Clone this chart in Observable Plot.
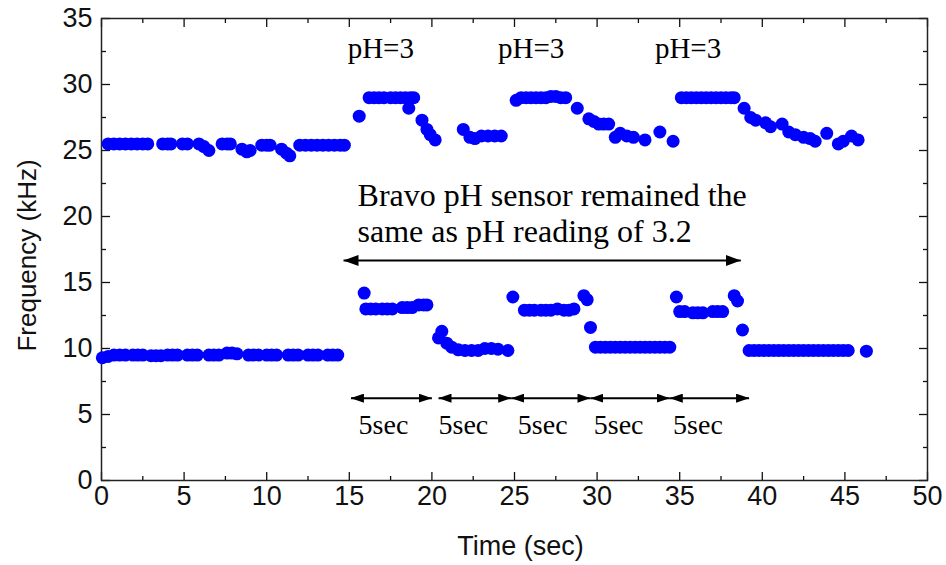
<!DOCTYPE html>
<html><head><meta charset="utf-8">
<script src="https://cdn.jsdelivr.net/npm/d3@7"></script>
<script src="https://cdn.jsdelivr.net/npm/@observablehq/plot@0.6"></script>
<style>html,body{margin:0;padding:0;background:#fff}</style>
</head><body><div id="chart"></div>
<script>
// Upper trace (Frequency, kHz vs Time, sec)
const upperTime = [0.4,0.75,1.1,1.45,1.8,2.15,2.5,2.8, 3.7,4.0,4.2, 4.9,5.2, 5.9,6.2,6.5, 7.3,7.6,7.8, 8.5,8.8,9.0, 9.7,10.0,10.2, 10.9,11.2,11.4,
  12.0,12.35,12.7,13.05,13.4,13.75,14.1,14.45,14.7,
  15.6, 16.2,16.5,16.8,17.1, 17.5,17.8,18.1, 18.4,18.7,18.9, 18.6, 19.4, 19.7, 19.9, 20.2,
  21.9, 22.3,22.6, 23.0,23.4,23.8, 24.2,
  25.1, 25.4,25.7,26.0,26.3,26.6,26.9,27.2,27.5,27.8,28.1, 28.8, 29.5,29.8, 30.1,30.4,30.7, 31.1,31.4,31.8,32.2, 32.9, 33.8, 34.6,
  35.1,35.4,35.7,36.0,36.3,36.6,36.9,37.2,37.5,37.8,38.1,38.3, 38.9, 39.3,39.6, 40.2,40.5, 41.2, 41.6,42.0, 42.5,42.9,43.2, 43.9, 44.6,44.9, 45.4, 45.8];
const upperFreq = [25.5,25.5,25.5,25.5,25.5,25.5,25.5,25.5, 25.5,25.5,25.5, 25.5,25.5, 25.5,25.3,25.0, 25.5,25.5,25.5, 25.1,24.9,25.0, 25.4,25.4,25.4, 25.1,24.8,24.6,
  25.4,25.4,25.4,25.4,25.4,25.4,25.4,25.4,25.4,
  27.6, 29.0,29.0,29.0,29.0, 29.0,29.0,29.0, 29.0,29.0,29.0, 28.2, 27.3, 26.6, 26.2, 25.8,
  26.6, 26.0,25.9, 26.1,26.1,26.1, 26.1,
  28.8, 29.0,29.0,29.0,29.0,29.0,29.0,29.1,29.1,29.0,29.0, 28.2, 27.4,27.2, 27.0,27.0,27.0, 26.0,26.3,26.1,26.0, 25.8, 26.4, 25.7,
  29.0,29.0,29.0,29.0,29.0,29.0,29.0,29.0,29.0,29.0,29.0,29.0, 28.2, 27.5,27.3, 27.1,26.8, 27.0, 26.4,26.2, 26.0,25.9,25.7, 26.3, 25.5,25.7, 26.1, 25.8];

// Lower trace
const lowerTime = [0.05, 0.4,0.75,1.1,1.45, 1.9,2.2,2.5, 3.0,3.3,3.6, 4.0,4.3,4.6, 5.2,5.5,5.8, 6.5,6.8,7.1, 7.6,7.9,8.2, 8.9,9.2,9.5,
  10.0,10.3,10.6, 11.3,11.6,11.9, 12.5,12.8,13.1, 13.7,14.0,14.3,
  15.9, 16.0,16.3,16.6, 17.0,17.3,17.6, 18.2,18.5,18.8, 19.2,19.5,19.7,
  20.4, 20.6, 20.9, 21.2, 21.6, 22.0,22.4,22.8, 23.2,23.6, 24.0, 24.6,
  24.9, 25.6,25.9,26.2, 26.6,26.9,27.2, 27.6, 28.0,28.3, 28.6, 29.2,29.4, 29.6,
  29.9,30.2,30.5,30.8,31.1,31.4,31.7,32.0,32.3,32.6,32.9,33.2,33.5,33.8,34.1,34.4,
  34.8, 35.0,35.3, 35.8,36.1,36.4, 37.0,37.3,37.6, 38.3,38.5, 38.8,
  39.2,39.5,39.8,40.1,40.4,40.7,41.0,41.3,41.6,41.9,42.2,42.5,42.8,43.1,43.4,43.7,44.0,44.3,44.6,44.9,45.2, 46.3];
const lowerFreq = [9.3, 9.4,9.5,9.5,9.5, 9.5,9.5,9.5, 9.45,9.45,9.45, 9.5,9.5,9.5, 9.5,9.5,9.5, 9.5,9.5,9.5, 9.65,9.65,9.6, 9.5,9.5,9.5,
  9.5,9.5,9.5, 9.5,9.5,9.5, 9.5,9.5,9.5, 9.5,9.5,9.5,
  14.2, 13.0,13.0,13.0, 13.0,13.0,13.0, 13.1,13.1,13.1, 13.3,13.3,13.3,
  10.8, 11.3, 10.4, 10.1, 9.9, 9.85,9.85,9.85, 10.0,10.0, 9.95, 9.85,
  13.9, 12.9,12.9,12.9, 12.9,12.9,12.9, 13.0, 12.9,12.9, 13.0, 14.0,13.7, 11.6,
  10.1,10.1,10.1,10.1,10.1,10.1,10.1,10.1,10.1,10.1,10.1,10.1,10.1,10.1,10.1,10.1,
  13.9, 12.8,12.8, 12.7,12.7,12.7, 12.8,12.8,12.8, 14.0,13.6, 11.4,
  9.85,9.85,9.85,9.85,9.85,9.85,9.85,9.85,9.85,9.85,9.85,9.85,9.85,9.85,9.85,9.85,9.85,9.85,9.85,9.85,9.85, 9.8];

// Axis ticks
const xMajor = [0,5,10,15,20,25,30,35,40,45,50];
const xMinor = [2.5,7.5,12.5,17.5,22.5,27.5,32.5,37.5,42.5,47.5];
const yMajor = [0,5,10,15,20,25,30,35];
const yMinor = [2.5,7.5,12.5,17.5,22.5,27.5,32.5];

// Annotations (data units)
const phText = ["pH=3","pH=3","pH=3"];
const phTime = [14.9, 24.0, 33.5];
const phFreq = [32.0, 32.0, 32.0];
const noteText = ["Bravo pH sensor remained the", "same as pH reading of 3.2"];
const noteTime = [15.5, 15.5];
const noteFreq = [20.8, 18.1];
const bigArrowStart = [14.65], bigArrowEnd = [38.7], bigArrowFreq = [16.67];
const secStart = [15.1, 20.4, 24.8, 29.6, 34.4];
const secEnd   = [20.0, 24.8, 29.6, 34.4, 39.2];
const secFreq = 6.24;
const secLabelTime = [15.56, 20.4, 25.2, 29.8, 34.6];
const secLabelFreq = 3.56;

const upper = upperTime.map((t, i) => ({t, f: upperFreq[i]}));
const lower = lowerTime.map((t, i) => ({t, f: lowerFreq[i]}));
const phLabels = phText.map((s, i) => ({s, t: phTime[i], f: phFreq[i]}));
const notes = noteText.map((s, i) => ({s, t: noteTime[i], f: noteFreq[i]}));
const bigArrow = bigArrowStart.map((a, i) => ({a, b: bigArrowEnd[i], f: bigArrowFreq[i]}));
const secArrows = secStart.map((a, i) => ({a, b: secEnd[i], f: secFreq}));
const secLabels = secLabelTime.map(t => ({s: "5sec", t, f: secLabelFreq}));

function headMarker(len, half) {
  return (color, context) => {
    const m = d3.create("svg:marker")
      .attr("viewBox", `${-len} ${-half} ${len} ${2*half}`)
      .attr("markerUnits", "userSpaceOnUse")
      .attr("markerWidth", len).attr("markerHeight", 2*half)
      .attr("refX", 0).attr("refY", 0)
      .attr("orient", "auto-start-reverse");
    m.append("path").attr("d", `M${-len},${-half}L0,0L${-len},${half}Z`).attr("fill", "#000").attr("stroke", "none");
    return m.node();
  };
}
const bigHead = headMarker(15, 5.5);
const smallHead = headMarker(13, 4.5);

const serif = "'Liberation Serif', 'Times New Roman', serif";
const noTxt = () => "";

const chart = Plot.plot({
  width: 946, height: 565,
  marginLeft: 101, marginRight: 19, marginTop: 18, marginBottom: 85,
  x: {domain: [0, 50], label: null},
  y: {domain: [0, 35], label: null},
  style: {fontFamily: "'Liberation Sans', Arial, sans-serif", background: "#fff", color: "#111"},
  marks: [
    // inward ticks on all four sides
    Plot.axisX({anchor: "bottom", ticks: xMajor, tickSize: -8, tickFormat: noTxt, label: null, strokeWidth: 1.3}),
    Plot.axisX({anchor: "bottom", ticks: xMinor, tickSize: -4, tickFormat: noTxt, label: null, strokeWidth: 1.3}),
    Plot.axisX({anchor: "top", ticks: xMajor, tickSize: -8, tickFormat: noTxt, label: null, strokeWidth: 1.3}),
    Plot.axisX({anchor: "top", ticks: xMinor, tickSize: -4, tickFormat: noTxt, label: null, strokeWidth: 1.3}),
    Plot.axisY({anchor: "left", ticks: yMajor, tickSize: -9, tickFormat: noTxt, label: null, strokeWidth: 1.3}),
    Plot.axisY({anchor: "left", ticks: yMinor, tickSize: -5, tickFormat: noTxt, label: null, strokeWidth: 1.3}),
    Plot.axisY({anchor: "right", ticks: yMajor, tickSize: -9, tickFormat: noTxt, label: null, strokeWidth: 1.3}),
    Plot.axisY({anchor: "right", ticks: yMinor, tickSize: -5, tickFormat: noTxt, label: null, strokeWidth: 1.3}),
    // tick labels
    Plot.axisX({anchor: "bottom", ticks: xMajor, tickSize: 0, tickPadding: 5, fontSize: 27, label: null}),
    Plot.axisY({anchor: "left", ticks: yMajor, tickSize: 0, tickPadding: 9, fontSize: 27, label: null}),
    Plot.frame({stroke: "#222", strokeWidth: 1.5}),
    // axis titles
    Plot.text(["Time (sec)"], {frameAnchor: "bottom", text: d => d, dx: 6, dy: 74, fontSize: 27, fill: "#111"}),
    Plot.text(["Frequency (kHz)"], {frameAnchor: "left", text: d => d, dx: -74, dy: 6, rotate: -90, textAnchor: "middle", lineAnchor: "middle", fontSize: 26, fill: "#111"}),
    // data
    Plot.dot(upper, {x: "t", y: "f", r: 6.5, fill: "#0000ff", stroke: "none"}),
    Plot.dot(lower, {x: "t", y: "f", r: 6.5, fill: "#0000ff", stroke: "none"}),
    // annotations
    Plot.text(phLabels, {x: "t", y: "f", text: "s", textAnchor: "start", lineAnchor: "bottom", fontFamily: serif, fontSize: 29, fill: "#000"}),
    Plot.text(notes, {x: "t", y: "f", text: "s", textAnchor: "start", lineAnchor: "bottom", fontFamily: serif, fontSize: 32, fill: "#000"}),
    Plot.link(bigArrow, {x1: "a", x2: "b", y1: "f", y2: "f", stroke: "#000", strokeWidth: 2, markerStart: bigHead, markerEnd: bigHead}),
    Plot.link(secArrows, {x1: "a", x2: "b", y1: "f", y2: "f", stroke: "#000", strokeWidth: 2, markerStart: smallHead, markerEnd: smallHead}),
    Plot.text(secLabels, {x: "t", y: "f", text: "s", textAnchor: "start", lineAnchor: "bottom", fontFamily: serif, fontSize: 28, fill: "#000"})
  ]
});
document.getElementById("chart").appendChild(chart);
</script>
</body></html>
